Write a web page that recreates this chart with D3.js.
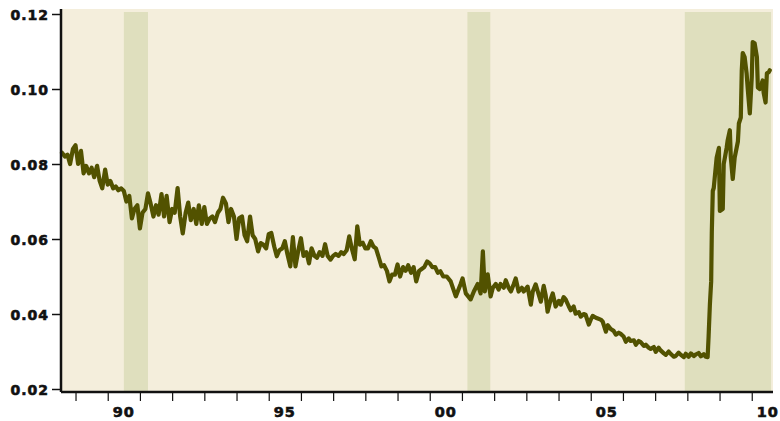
<!DOCTYPE html>
<html><head><meta charset="utf-8">
<script src="https://cdn.jsdelivr.net/npm/d3@7"></script>
<style>body{margin:0;background:#fff}svg{display:block}text{font-family:"DejaVu Sans",sans-serif;font-weight:bold;fill:#111}</style>
</head><body><svg id="c" width="780" height="421"></svg>
<script>
const years = [1988.58,1988.67,1988.75,1988.83,1988.92,1989.00,1989.08,1989.17,1989.25,1989.33,1989.42,1989.50,1989.58,1989.67,1989.75,1989.83,1989.92,
1990.00,1990.08,1990.17,1990.25,1990.33,1990.42,1990.50,1990.58,1990.67,1990.75,1990.83,1990.92,
1991.00,1991.08,1991.17,1991.25,1991.33,1991.42,1991.50,1991.58,1991.67,1991.75,1991.83,1991.92,
1992.00,1992.08,1992.17,1992.25,1992.33,1992.42,1992.50,1992.58,1992.67,1992.75,1992.83,1992.92,
1993.00,1993.08,1993.17,1993.25,1993.33,1993.42,1993.50,1993.58,1993.67,1993.75,1993.83,1993.92,
1994.00,1994.08,1994.17,1994.25,1994.33,1994.42,1994.50,1994.58,1994.67,1994.75,1994.83,1994.92,
1995.00,1995.08,1995.17,1995.25,1995.33,1995.42,1995.50,1995.58,1995.67,1995.75,1995.83,1995.92,
1996.00,1996.08,1996.17,1996.25,1996.33,1996.42,1996.50,1996.58,1996.67,1996.75,1996.83,1996.92,
1997.00,1997.08,1997.17,1997.25,1997.33,1997.42,1997.50,1997.58,1997.67,1997.75,1997.83,1997.92,
1998.00,1998.08,1998.17,1998.25,1998.33,1998.42,1998.50,1998.58,1998.67,1998.75,1998.83,1998.92,
1999.00,1999.08,1999.17,1999.25,1999.33,1999.42,1999.50,1999.58,1999.67,1999.75,1999.83,1999.92,
2000.00,2000.08,2000.17,2000.25,2000.33,2000.42,2000.53,2000.65,2000.81,2000.96,
2001.02,2001.12,2001.27,2001.37,2001.49,2001.58,2001.65,2001.71,2001.80,2001.89,2001.96,
2002.05,2002.14,2002.20,2002.30,2002.36,2002.45,2002.52,2002.61,2002.67,2002.76,2002.86,2002.92,
2003.04,2003.14,2003.20,2003.29,2003.39,2003.45,2003.54,2003.60,2003.66,2003.76,2003.82,2003.91,
2004.01,2004.07,2004.16,2004.22,2004.32,2004.38,2004.47,2004.53,2004.63,2004.69,2004.78,2004.84,2004.94,
2005.00,2005.06,2005.16,2005.22,2005.31,2005.37,2005.47,2005.53,2005.62,2005.71,2005.78,2005.87,2005.93,
2006.02,2006.09,2006.18,2006.24,2006.34,2006.40,2006.49,2006.55,2006.65,2006.71,2006.80,2006.86,2006.96,
2007.02,2007.11,2007.17,2007.27,2007.33,2007.42,2007.48,2007.58,2007.64,2007.73,2007.80,2007.89,2007.95,
2008.04,2008.11,2008.20,2008.26,2008.35,2008.42,2008.51,2008.57,2008.63,2008.66,2008.70,2008.74,2008.76,2008.79,2008.82,2008.91,2008.98,
2009.01,2009.10,2009.13,2009.22,2009.25,2009.32,2009.35,2009.41,2009.47,2009.57,2009.60,2009.66,2009.69,2009.72,2009.78,2009.84,2009.88,2009.94,
2010.00,2010.03,2010.09,2010.16,2010.19,2010.25,2010.34,2010.37,2010.43,2010.47,2010.53,2010.56];
const rates = [0.083,0.082,0.0825,0.080,0.084,0.085,0.080,0.0835,0.0775,0.0795,0.0775,0.079,0.0765,0.0795,0.0755,0.0735,0.0785,
0.0745,0.0755,0.0735,0.074,0.073,0.0735,0.0728,0.070,0.0715,0.0655,0.068,0.069,
0.0628,0.067,0.068,0.0722,0.0695,0.066,0.069,0.0665,0.072,0.066,0.0715,0.0645,
0.068,0.067,0.0736,0.066,0.0615,0.067,0.0697,0.065,0.068,0.064,0.069,0.064,
0.0685,0.064,0.0655,0.066,0.0645,0.067,0.068,0.071,0.0695,0.0645,0.068,0.066,
0.060,0.0655,0.066,0.061,0.0594,0.066,0.061,0.060,0.0567,0.0589,0.0585,0.0575,
0.0613,0.0616,0.058,0.0554,0.057,0.0575,0.0594,0.056,0.0527,0.0605,0.0527,0.057,
0.0602,0.0555,0.0565,0.0535,0.0575,0.0555,0.055,0.0565,0.0555,0.0586,0.0555,0.0545,
0.0555,0.056,0.0555,0.0565,0.056,0.057,0.0607,0.0575,0.0546,0.0634,0.0585,0.059,
0.0575,0.0575,0.0594,0.058,0.0575,0.055,0.0527,0.053,0.0515,0.0487,0.0505,0.0505,
0.0532,0.050,0.0525,0.0515,0.053,0.051,0.0525,0.0487,0.0515,0.052,0.0525,0.054,
0.0535,0.0525,0.0525,0.051,0.0514,0.050,0.050,0.0487,0.0447,0.048,
0.0495,0.0455,0.0439,0.046,0.048,0.0455,0.0567,0.046,0.0506,0.0447,0.047,
0.048,0.0465,0.048,0.047,0.049,0.047,0.046,0.048,0.0495,0.046,0.047,0.046,
0.0473,0.0425,0.046,0.0479,0.045,0.0433,0.0475,0.045,0.0406,0.044,0.0455,0.042,
0.0435,0.0425,0.0445,0.0439,0.042,0.041,0.042,0.0401,0.0405,0.0393,0.040,0.0398,0.0372,
0.0385,0.0395,0.039,0.0388,0.0385,0.038,0.0353,0.037,0.036,0.0355,0.0345,0.035,0.0347,
0.034,0.0326,0.0335,0.0328,0.033,0.0318,0.0328,0.0325,0.0315,0.0318,0.031,0.0307,0.0312,
0.0299,0.031,0.0303,0.0295,0.0291,0.030,0.0294,0.0286,0.0288,0.0297,0.0291,0.0285,0.0294,
0.0286,0.0295,0.0288,0.0292,0.0296,0.0287,0.0293,0.0286,0.0285,0.034,0.0425,0.0487,0.062,0.0728,0.0736,0.0817,0.0843,
0.0675,0.068,0.080,0.0843,0.0862,0.089,0.0817,0.076,0.0817,0.086,0.0908,0.0924,0.105,0.1096,0.1085,0.1042,0.0996,0.0935,
0.103,0.1125,0.1122,0.1085,0.1004,0.100,0.1023,0.099,0.0964,0.1042,0.1045,0.105];
const recessionStart = [1990.5, 2001.17, 2007.92];
const recessionEnd = [1991.25, 2001.88, 2010.6];
const yTicks = [0.02, 0.04, 0.06, 0.08, 0.10, 0.12];
const xTickYears = d3.range(1989, 2011);
const xLabelYears = [1990, 1995, 2000, 2005, 2010];
const xLabels = ["90", "95", "00", "05", "10"];

const svg = d3.select("#c");
const x = d3.scaleLinear().domain([1988.58, 2010.66]).range([62, 773]);
const y = d3.scaleLinear().domain([0.02, 0.12]).range([389, 14]);
const plotTop = 9, plotBottom = 392;

svg.append("rect").attr("x", x.range()[0]).attr("y", plotTop)
  .attr("width", x.range()[1] - x.range()[0]).attr("height", plotBottom - plotTop)
  .attr("fill", "#F4EEDC");
svg.selectAll(".rec").data(recessionStart).enter().append("rect")
  .attr("x", d => x(d)).attr("y", 12)
  .attr("width", (d, i) => x(recessionEnd[i]) - x(d)).attr("height", plotBottom - 12)
  .attr("fill", "#DFDFBE");

const data = years.map((t, i) => [t, rates[i]]);
svg.append("path").datum(data)
  .attr("d", d3.line().x(d => x(d[0])).y(d => y(d[1])))
  .attr("fill", "none").attr("stroke", "#525200").attr("stroke-width", 4.2)
  .attr("stroke-linejoin", "round").attr("stroke-linecap", "round");

// y axis
const yAxis = d3.axisLeft(y).tickValues(yTicks).tickFormat(d3.format(".2f")).tickSize(9).tickPadding(3);
const ga = svg.append("g").attr("transform", "translate(61,0)").call(yAxis);
ga.select(".domain").attr("d", `M0,${plotTop}V${plotBottom}`).attr("stroke", "#111").attr("stroke-width", 2.5);
ga.selectAll(".tick line").attr("stroke", "#111").attr("stroke-width", 1.5);
ga.selectAll(".tick text").attr("font-size", 14).attr("letter-spacing", "1px").attr("dy", "0.38em")
  .style("font-family", "'DejaVu Sans',sans-serif").style("font-weight", "bold").attr("fill", "#111")
  .attr("stroke", "#111").attr("stroke-width", 0.6);

// x axis
const xAxis = d3.axisBottom(x).tickValues(xTickYears).tickFormat("").tickSize(9);
const gx = svg.append("g").attr("transform", `translate(0,${plotBottom})`).call(xAxis);
gx.select(".domain").attr("d", `M61,0H${x.range()[1]}`).attr("stroke", "#111").attr("stroke-width", 2.5);
gx.selectAll(".tick line").attr("stroke", "#111").attr("stroke-width", 1.2);
svg.selectAll(".xl").data(xLabelYears).enter().append("text")
  .attr("x", d => x(d + 0.5)).attr("y", 417).attr("text-anchor", "middle")
  .attr("font-size", 14.5).attr("letter-spacing", "1px")
  .attr("stroke", "#111").attr("stroke-width", 0.6)
  .text((d, i) => xLabels[i]);
</script></body></html>
